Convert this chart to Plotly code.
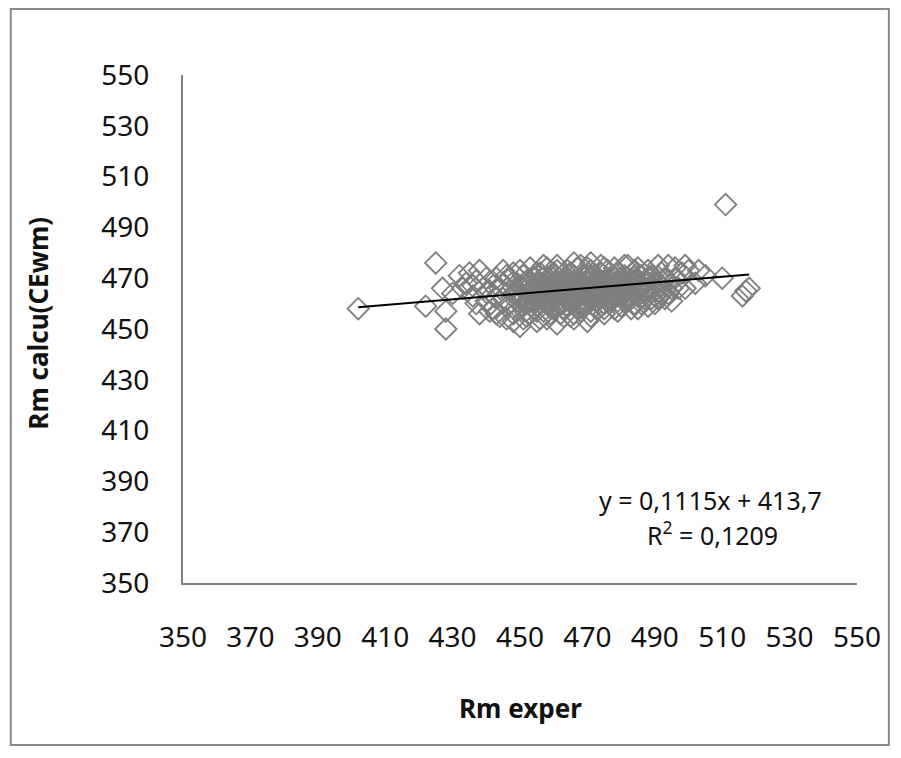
import plotly.graph_objects as go

# Data (Rm exper, Rm calcu(CEwm))
rm_exper = [
    402, 422, 425, 428, 428, 427, 432, 434, 436, 437, 438, 435, 440, 441, 442, 443, 444, 445, 446, 447,
    448, 449, 450, 450, 451, 452, 452, 453, 454, 455, 455, 456, 457, 458, 458, 459, 460, 460, 461, 462,
    462, 463, 464, 465, 465, 466, 467, 468, 468, 469, 470, 470, 471, 472, 473, 474, 475, 475, 476, 477,
    478, 479, 480, 480, 481, 482, 483, 484, 485, 486, 487, 488, 489, 490, 491, 492, 493, 495, 496, 497,
    500, 502, 505, 510, 511, 516, 518, 517,
    444, 446, 447, 448, 449, 451, 451, 453, 453, 454, 455, 456, 456, 457, 457, 458, 459, 459, 460, 461,
    461, 462, 463, 463, 464, 464, 465, 466, 466, 467, 467, 468, 469, 469, 470, 471, 471, 472, 472, 473,
    474, 474, 475, 476, 476, 477, 478, 478, 479, 480, 481, 481, 482, 483, 484, 484, 485, 486, 487, 488,
    488, 489, 490, 491, 492, 493, 494, 495, 497, 498,
    445, 447, 449, 450, 452, 452, 454, 454, 455, 456, 457, 458, 459, 460, 460, 461, 462, 463, 464, 464,
    465, 465, 466, 466, 467, 468, 468, 469, 470, 470, 471, 472, 473, 473, 474, 475, 475, 476, 477, 478,
    479, 480, 481, 482, 482, 483, 484, 485, 486, 487, 488, 489, 490, 491, 492, 494, 496, 499, 439, 440,
    442, 443, 436, 437, 433, 430, 438, 441, 443, 446, 448, 451, 455, 458, 463, 466, 471, 475, 479, 483,
    486, 490, 493, 445, 448, 453, 457, 461, 466, 471, 474, 478, 481, 485, 494, 499, 503,
    450, 452, 454, 456, 458, 460, 462, 464, 466, 468, 470, 472, 474, 476, 478, 480, 482, 484, 486, 488,
    451, 453, 455, 457, 459, 461, 463, 465, 467, 469, 471, 473, 475, 477, 479, 481, 483, 485, 487, 489,
    449, 453, 457, 461, 465, 469, 473, 477, 481, 485, 455, 459, 463, 467, 471, 475, 479, 483, 460, 470,
    452, 454, 456, 458, 460, 462, 464, 466, 468, 470, 472, 474, 476, 478, 480, 482, 484, 457, 461, 465,
    453, 455, 457, 459, 461, 463, 465, 467, 469, 471, 473, 475, 477, 479, 481, 483, 469, 473, 477, 467,
]
rm_calcu = [
    458, 459, 476, 450, 457, 466, 471, 468, 463, 460, 456, 472, 470, 465, 458, 462, 455, 468, 471, 460,
    464, 457, 473, 451, 466, 461, 455, 469, 458, 463, 472, 454, 467, 460, 474, 456, 465, 470, 452, 462,
    468, 458, 473, 455, 466, 461, 469, 457, 475, 464, 453, 460, 467, 471, 458, 463, 474, 456, 468, 461,
    466, 472, 459, 470, 464, 475, 462, 468, 458, 471, 465, 473, 462, 468, 475, 464, 470, 466, 474, 469,
    473, 468, 471, 470, 499, 463, 466, 465,
    466, 459, 470, 456, 468, 462, 471, 456, 465, 470, 459, 466, 472, 457, 462, 469, 464, 471, 458, 466,
    473, 456, 464, 470, 459, 467, 472, 456, 469, 463, 474, 466, 459, 471, 465, 457, 473, 462, 467, 469,
    459, 472, 465, 461, 473, 466, 458, 470, 463, 466, 461, 471, 465, 469, 460, 473, 466, 462, 469, 459,
    466, 471, 463, 468, 472, 465, 469, 461, 466, 472,
    462, 465, 461, 467, 464, 469, 461, 466, 468, 462, 470, 464, 467, 461, 462, 469, 465, 467, 462, 470,
    463, 469, 465, 471, 460, 463, 469, 466, 468, 471, 462, 465, 466, 461, 467, 462, 469, 464, 470, 463,
    468, 463, 467, 462, 470, 465, 464, 469, 466, 462, 470, 466, 465, 462, 467, 464, 470, 466, 466, 461,
    467, 470, 467, 469, 466, 464, 473, 457, 456, 454, 453, 454, 453, 454, 455, 454, 455, 458, 457, 458,
    460, 460, 462, 473, 472, 474, 475, 475, 476, 476, 475, 474, 475, 474, 475, 475, 473,
    463, 460, 465, 462, 467, 464, 460, 466, 462, 465, 463, 468, 466, 470, 465, 468, 466, 471, 467, 465,
    459, 467, 461, 468, 463, 459, 469, 462, 458, 467, 470, 463, 460, 467, 469, 462, 469, 463, 468, 470,
    463, 461, 465, 463, 468, 464, 467, 464, 465, 467, 457, 460, 458, 459, 461, 460, 461, 462, 472, 474,
    466, 463, 468, 465, 463, 467, 464, 462, 466, 464, 466, 463, 467, 465, 468, 466, 469, 464, 463, 468,
    461, 465, 463, 466, 468, 465, 461, 465, 468, 466, 469, 465, 462, 467, 465, 468, 460, 461, 464, 465,
]

# Trendline as printed on the chart
slope = 0.1115
intercept = 413.7
equation_text = "y = 0,1115x + 413,7"
r2_text = "R<sup>2</sup> = 0,1209"

axis_ticks = [350, 370, 390, 410, 430, 450, 470, 490, 510, 530, 550]

x_min, x_max = min(rm_exper), max(rm_exper)
trend_x = [x_min, x_max]
trend_y = [slope * v + intercept for v in trend_x]

fig = go.Figure()
fig.add_trace(go.Scatter(
    x=rm_exper, y=rm_calcu, mode="markers",
    marker=dict(symbol="diamond-open", size=16.5, color="#7f7f7f",
                line=dict(width=1.8, color="#7f7f7f")),
    showlegend=False, hoverinfo="skip",
))
fig.add_trace(go.Scatter(
    x=trend_x, y=trend_y, mode="lines",
    line=dict(color="black", width=2), showlegend=False, hoverinfo="skip",
))

# page body adds an 8px margin; figure coordinates are reference pixels minus 8
OFF = 8
W, H = 885, 742
L = 183 - OFF
T = 75 - OFF
R = W - (860 - OFF)
B = H - (583 - OFF)
pw, ph = W - L - R, H - T - B

def px_x(p):
    return (p - OFF - L) / pw

def px_y(p):
    return (H - B - (p - OFF)) / ph

FONT = "Noto Sans, Open Sans, sans-serif"
tick_font = dict(family=FONT, size=28, color="#111111")

fig.update_layout(
    width=W, height=H,
    margin=dict(l=L, r=R, t=T, b=B, pad=0),
    paper_bgcolor="white", plot_bgcolor="white",
    xaxis=dict(range=[350, 550], tickvals=axis_ticks, ticktext=[str(t) for t in axis_ticks],
               showgrid=False, zeroline=False, showline=True, linecolor="#808080", linewidth=2,
               ticks="", tickfont=tick_font, ticklabelstandoff=28),
    yaxis=dict(range=[350, 550], tickvals=axis_ticks, ticktext=[str(t) for t in axis_ticks],
               showgrid=False, zeroline=False, showline=True, linecolor="#808080", linewidth=2,
               ticks="", tickfont=tick_font, ticklabelstandoff=26),
    shapes=[dict(type="rect", xref="paper", yref="paper",
                 x0=px_x(10), x1=px_x(892), y0=px_y(745), y1=px_y(9),
                 line=dict(color="#8a8a8a", width=2), fillcolor="rgba(0,0,0,0)", layer="below")],
    annotations=[
        dict(text="<b>Rm exper</b>", xref="paper", yref="paper", x=px_x(522), y=px_y(708),
             xanchor="center", yanchor="middle",
             showarrow=False, font=dict(family=FONT, size=26, color="#111111")),
        dict(text="<b>Rm calcu(CEwm)</b>", xref="paper", yref="paper", x=px_x(37), y=px_y(323),
             xanchor="center", yanchor="middle",
             showarrow=False, textangle=-90,
             font=dict(family=FONT, size=26, color="#111111")),
        dict(text=equation_text, xref="paper", yref="paper", x=px_x(713), y=px_y(500),
             xanchor="center", yanchor="middle",
             showarrow=False, font=dict(family=FONT, size=25, color="#111111")),
        dict(text=r2_text, xref="paper", yref="paper", x=px_x(715), y=px_y(533),
             xanchor="center", yanchor="middle",
             showarrow=False, font=dict(family=FONT, size=25, color="#111111")),
    ],
)

fig.write_html("out.html")
